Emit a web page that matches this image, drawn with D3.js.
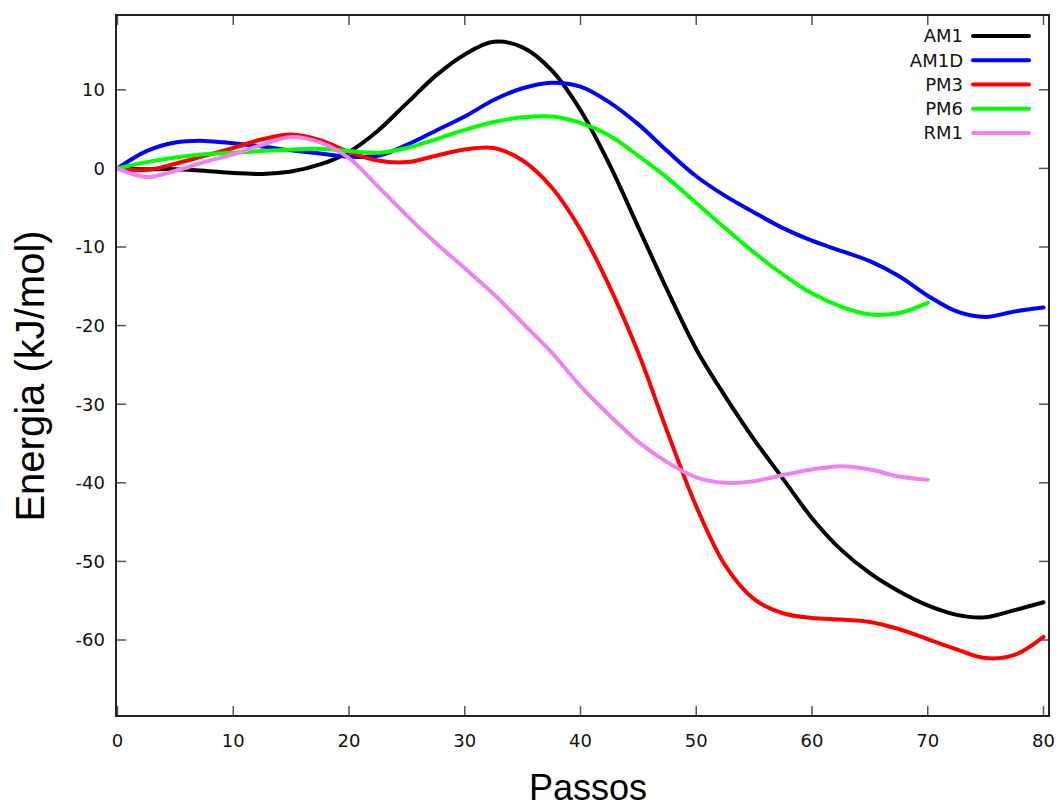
<!DOCTYPE html>
<html>
<head>
  <meta charset="utf-8">
  <title>Energia x Passos</title>
  <style>
    body { margin: 0; background: #fff; }
    text.tick { font-family: 'DejaVu Sans', sans-serif; font-size: 18px; fill: #111; }
    text.legend { font-family: 'DejaVu Sans', sans-serif; font-size: 18px; fill: #111; text-anchor: end; }
    text.title { font-family: 'Liberation Sans', Arial, sans-serif; fill: #000; text-anchor: middle; }
    line.tickmark { stroke: #555; stroke-width: 1.5; }
    rect.frame { fill: none; stroke: #222; stroke-width: 2; }
    path.serie { fill: none; stroke-width: 4; stroke-linejoin: round; stroke-linecap: round; }
  </style>
</head>
<body>
<svg id="chart"></svg>

<script src="https://cdn.jsdelivr.net/npm/d3@7"></script>
<script>
// passos (x) shared by all series
var steps = [0, 2.5, 5, 7.5, 10, 12.5, 15, 17.5, 20, 22.5, 25, 27.5, 30, 32.5, 35, 37.5, 40,
             42.5, 45, 47.5, 50, 52.5, 55, 57.5, 60, 62.5, 65, 67.5, 70, 72.5, 75, 77.5, 80];

var am1  = [0, -0.1, -0.1, -0.3, -0.6, -0.7, -0.4, 0.5, 2.1, 4.8, 8.3, 11.8, 14.5, 16.1, 15.4, 12.5, 7.4,
            0.5, -7.5, -15.5, -23, -29, -34.5, -39.5, -44.5, -48.5, -51.5, -53.8, -55.6, -56.8, -57.1, -56.2, -55.2];
var am1d = [0, 2.2, 3.3, 3.5, 3.2, 2.8, 2.3, 1.9, 1.5, 1.6, 3.0, 4.8, 6.6, 8.7, 10.2, 10.9, 10.4,
            8.4, 5.6, 2.2, -1.0, -3.5, -5.6, -7.6, -9.2, -10.5, -11.8, -13.7, -16.2, -18.2, -18.9, -18.2, -17.7];
var pm3  = [0, -0.2, 0.6, 1.6, 2.6, 3.7, 4.3, 3.6, 2.1, 1.0, 0.8, 1.6, 2.4, 2.6, 1.0, -2.4, -7.8,
            -15.0, -23.5, -33.5, -43, -50.5, -54.8, -56.6, -57.2, -57.4, -57.7, -58.6, -59.9, -61.2, -62.3, -61.9, -59.6];
var pm6  = [0, 0.8, 1.4, 1.8, 2.0, 2.2, 2.4, 2.5, 2.2, 2.0, 2.6, 3.7, 4.9, 5.9, 6.5, 6.6, 5.8,
            4.2, 1.6, -1.2, -4.4, -7.6, -10.7, -13.5, -15.9, -17.6, -18.6, -18.4, -17.1];
var rm1  = [0, -1.1, -0.3, 0.8, 1.8, 3.0, 4.0, 3.3, 1.3, -2.3, -6.0, -9.5, -12.7, -16.0, -19.7, -23.4, -27.7,
            -31.4, -34.8, -37.4, -39.3, -40.0, -39.8, -39.0, -38.3, -37.9, -38.3, -39.2, -39.6];

var names  = ['AM1', 'AM1D', 'PM3', 'PM6', 'RM1'];
var colors = ['#000000', '#0000ff', '#ff0000', '#00ff00', '#ee82ee'];
var series = [am1, am1d, pm3, pm6, rm1];

var xTicks = [0, 10, 20, 30, 40, 50, 60, 70, 80];
var yTicks = [10, 0, -10, -20, -30, -40, -50, -60];

var width = 1061, height = 809;
var fLeft = 116, fRight = 1049, fTop = 15, fBottom = 716;  // plot frame

var svg = d3.select('#chart')
  .attr('width', width)
  .attr('height', height);

var x = d3.scaleLinear().domain([0, 80]).range([117.5, 1043.5]);
var y = d3.scaleLinear().domain([-60, 10]).range([640, 89.8]);

// ticks, mirrored on all four sides, pointing inward
var tl = 10;
xTicks.forEach(function (t) {
  svg.append('line').attr('class', 'tickmark')
    .attr('x1', x(t)).attr('x2', x(t)).attr('y1', fBottom).attr('y2', fBottom - tl);
  svg.append('line').attr('class', 'tickmark')
    .attr('x1', x(t)).attr('x2', x(t)).attr('y1', fTop).attr('y2', fTop + tl);
});
yTicks.forEach(function (t) {
  svg.append('line').attr('class', 'tickmark')
    .attr('x1', fLeft).attr('x2', fLeft + tl).attr('y1', y(t)).attr('y2', y(t));
  svg.append('line').attr('class', 'tickmark')
    .attr('x1', fRight).attr('x2', fRight - tl).attr('y1', y(t)).attr('y2', y(t));
});

svg.selectAll('text.xt')
  .data(xTicks)
  .enter()
  .append('text')
  .attr('class', 'tick xt')
  .attr('x', d => x(d))
  .attr('y', 747)
  .attr('text-anchor', 'middle')
  .text(d => d);

svg.selectAll('text.yt')
  .data(yTicks)
  .enter()
  .append('text')
  .attr('class', 'tick yt')
  .attr('x', 105)
  .attr('y', d => y(d))
  .attr('dy', '0.35em')
  .attr('text-anchor', 'end')
  .text(d => d);

// curves
var line = d3.line()
  .x((d, i) => x(steps[i]))
  .y(d => y(d))
  .curve(d3.curveCatmullRom.alpha(0.5));

svg.selectAll('path.serie')
  .data(series)
  .enter()
  .append('path')
  .attr('class', 'serie')
  .attr('stroke', (d, i) => colors[i])
  .attr('d', d => line(d));

svg.append('rect')
  .attr('class', 'frame')
  .attr('x', fLeft)
  .attr('y', fTop)
  .attr('width', fRight - fLeft)
  .attr('height', fBottom - fTop);

// legend
var ly = d3.scalePoint().domain(names).range([36, 133]);
names.forEach(function (n, i) {
  svg.append('text').attr('class', 'legend')
    .attr('x', 963).attr('y', ly(n)).attr('dy', '0.36em').text(n);
  svg.append('line')
    .attr('x1', 973).attr('x2', 1029)
    .attr('y1', ly(n)).attr('y2', ly(n))
    .attr('stroke', colors[i]).attr('stroke-width', 4).attr('stroke-linecap', 'round');
});

// axis titles
svg.append('text')
  .attr('class', 'title')
  .attr('x', 588)
  .attr('y', 800)
  .style('font-size', '36px')
  .text('Passos');

svg.append('text')
  .attr('class', 'title')
  .attr('transform', 'translate(44,376) rotate(-90)')
  .style('font-size', '40px')
  .text('Energia (kJ/mol)');
</script>
</body>
</html>
